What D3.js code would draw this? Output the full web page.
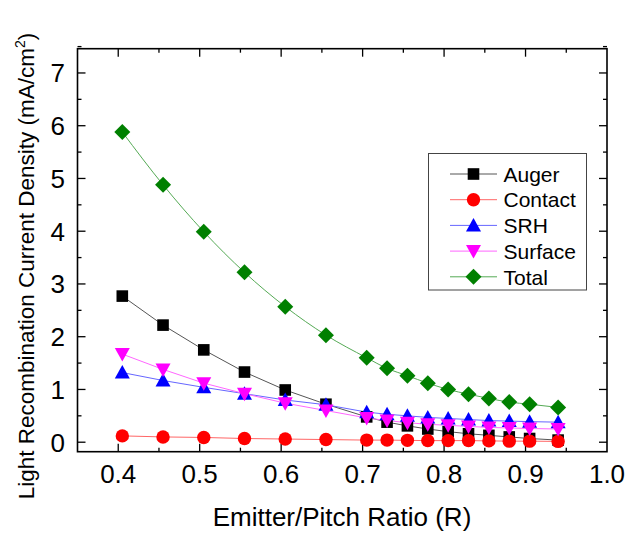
<!DOCTYPE html>
<html><head><meta charset="utf-8">
<script src="https://cdn.jsdelivr.net/npm/d3@7"></script>
<style>body{margin:0;background:#fff}svg{display:block}text{font-family:Arial,"Liberation Sans",sans-serif}</style>
</head><body>
<svg id="c" width="628" height="534"></svg>
<script>
const ratio = [0.405,0.455,0.505,0.555,0.605,0.655,0.705,0.73,0.755,0.78,0.805,0.83,0.855,0.88,0.905,0.94];
const auger = [2.77,2.22,1.75,1.33,0.99,0.72,0.48,0.38,0.31,0.25,0.20,0.16,0.13,0.10,0.07,0.04];
const contact = [0.12,0.10,0.09,0.07,0.06,0.05,0.04,0.04,0.035,0.03,0.03,0.03,0.025,0.02,0.02,0.015];
const srh = [1.32,1.17,1.04,0.92,0.80,0.71,0.57,0.53,0.50,0.47,0.45,0.43,0.41,0.40,0.39,0.38];
const surface = [1.67,1.38,1.12,0.92,0.74,0.60,0.46,0.41,0.37,0.34,0.32,0.30,0.28,0.27,0.26,0.25];
const total = [5.88,4.88,3.99,3.22,2.57,2.03,1.60,1.40,1.26,1.12,1.00,0.91,0.83,0.76,0.72,0.66];
const seriesNames = ["Auger","Contact","SRH","Surface","Total"];
const xTicks = [0.4,0.5,0.6,0.7,0.8,0.9,1.0];
const yTicks = [0,1,2,3,4,5,6,7];

const series = [
  {name:seriesNames[0], vals:auger, color:"#000000", line:"#555555", sym:"square"},
  {name:seriesNames[1], vals:contact, color:"#ff0000", line:"#ff6666", sym:"circle"},
  {name:seriesNames[2], vals:srh, color:"#0000ff", line:"#6666ff", sym:"up"},
  {name:seriesNames[3], vals:surface, color:"#ff00ff", line:"#ff66ff", sym:"down"},
  {name:seriesNames[4], vals:total, color:"#008000", line:"#55aa55", sym:"diamond", smooth:true}
];

const L=77.5, R=607, T=48.7, B=451.7;
const x = d3.scaleLinear().domain([0.35,1.0]).range([L,R]);
const y = d3.scaleLinear().domain([-0.18,7.46]).range([B,T]);
const svg = d3.select("#c");

// frame
svg.append("rect").attr("x",L).attr("y",T).attr("width",R-L).attr("height",B-T)
  .attr("fill","none").attr("stroke","#000").attr("stroke-width",1.6);

// ticks (inward, all four sides)
const xMinor = d3.range(0.35,1.0001,0.05).map(v=>+v.toFixed(2));
const yMinor = d3.range(0,7.51,0.5);
const tk = svg.append("g").attr("stroke","#000").attr("stroke-width",1.3);
xMinor.forEach(v=>{
  const major = Math.abs(v*10-Math.round(v*10))<1e-6;
  const len = major?8:4;
  if (v<=0.351 || v>=0.999) return;
  tk.append("line").attr("x1",x(v)).attr("x2",x(v)).attr("y1",B).attr("y2",B-len);
  tk.append("line").attr("x1",x(v)).attr("x2",x(v)).attr("y1",T).attr("y2",T+len);
});
yMinor.forEach(v=>{
  const major = Number.isInteger(v);
  const len = major?8:4;
  tk.append("line").attr("y1",y(v)).attr("y2",y(v)).attr("x1",L).attr("x2",L+len);
  tk.append("line").attr("y1",y(v)).attr("y2",y(v)).attr("x1",R).attr("x2",R-len);
});

// tick labels
svg.append("g").selectAll("text").data(xTicks).join("text")
  .attr("x",d=>x(d)).attr("y",482.5).attr("text-anchor","middle")
  .attr("font-size",26).attr("fill","#000").text(d=>d.toFixed(1));
svg.append("g").selectAll("text").data(yTicks).join("text")
  .attr("x",65).attr("y",d=>y(d)+9.3).attr("text-anchor","end")
  .attr("font-size",26).attr("fill","#000").text(d=>d);

// axis titles
svg.append("text").attr("x",342).attr("y",525.5).attr("text-anchor","middle")
  .attr("font-size",26).attr("fill","#000").text("Emitter/Pitch Ratio (R)");
const yt = svg.append("text").attr("transform","translate(34,266) rotate(-90)")
  .attr("text-anchor","middle").attr("font-size",22.5).attr("fill","#000");
yt.append("tspan").text("Light Recombination Current Density (mA/cm");
yt.append("tspan").attr("font-size",14).attr("dy",-9).text("2");
yt.append("tspan").attr("dy",9).text(")");

function marker(g, sym, cx, cy, color, s) {
  s = s || 1;
  if (sym==="square") g.append("rect").attr("x",cx-5.8*s).attr("y",cy-5.8*s).attr("width",11.6*s).attr("height",11.6*s).attr("fill",color);
  else if (sym==="circle") g.append("circle").attr("cx",cx).attr("cy",cy).attr("r",6.7*s).attr("fill",color);
  else if (sym==="up") g.append("path").attr("d",`M${cx},${cy-7.5*s}L${cx+7.5*s},${cy+6*s}L${cx-7.5*s},${cy+6*s}Z`).attr("fill",color);
  else if (sym==="down") g.append("path").attr("d",`M${cx},${cy+7.5*s}L${cx+7.5*s},${cy-6*s}L${cx-7.5*s},${cy-6*s}Z`).attr("fill",color);
  else if (sym==="diamond") g.append("path").attr("d",`M${cx},${cy-8*s}L${cx+8*s},${cy}L${cx},${cy+8*s}L${cx-8*s},${cy}Z`).attr("fill",color);
}

const plot = svg.append("g");
series.forEach(s=>{
  const ln = d3.line().x((d,i)=>x(ratio[i])).y(d=>y(d));
  if (s.smooth) ln.curve(d3.curveMonotoneX);
  plot.append("path").attr("d",ln(s.vals)).attr("fill","none").attr("stroke",s.line).attr("stroke-width",1);
});
series.forEach(s=>{
  const g = plot.append("g");
  s.vals.forEach((v,i)=>marker(g,s.sym,x(ratio[i]),y(v),s.color));
});

// legend
const lg = svg.append("g");
lg.append("rect").attr("x",428.5).attr("y",153.5).attr("width",158).attr("height",136.5)
  .attr("fill","#fff").attr("stroke","#444").attr("stroke-width",1);
series.forEach((s,i)=>{
  const cy = 174 + i*25.7;
  lg.append("line").attr("x1",450).attr("x2",497).attr("y1",cy).attr("y2",cy).attr("stroke",s.line).attr("stroke-width",1);
  marker(lg,s.sym,473.5,cy,s.color);
  lg.append("text").attr("x",503.5).attr("y",cy+7.7).attr("font-size",21).attr("fill","#000").text(s.name);
});
</script>
</body></html>
